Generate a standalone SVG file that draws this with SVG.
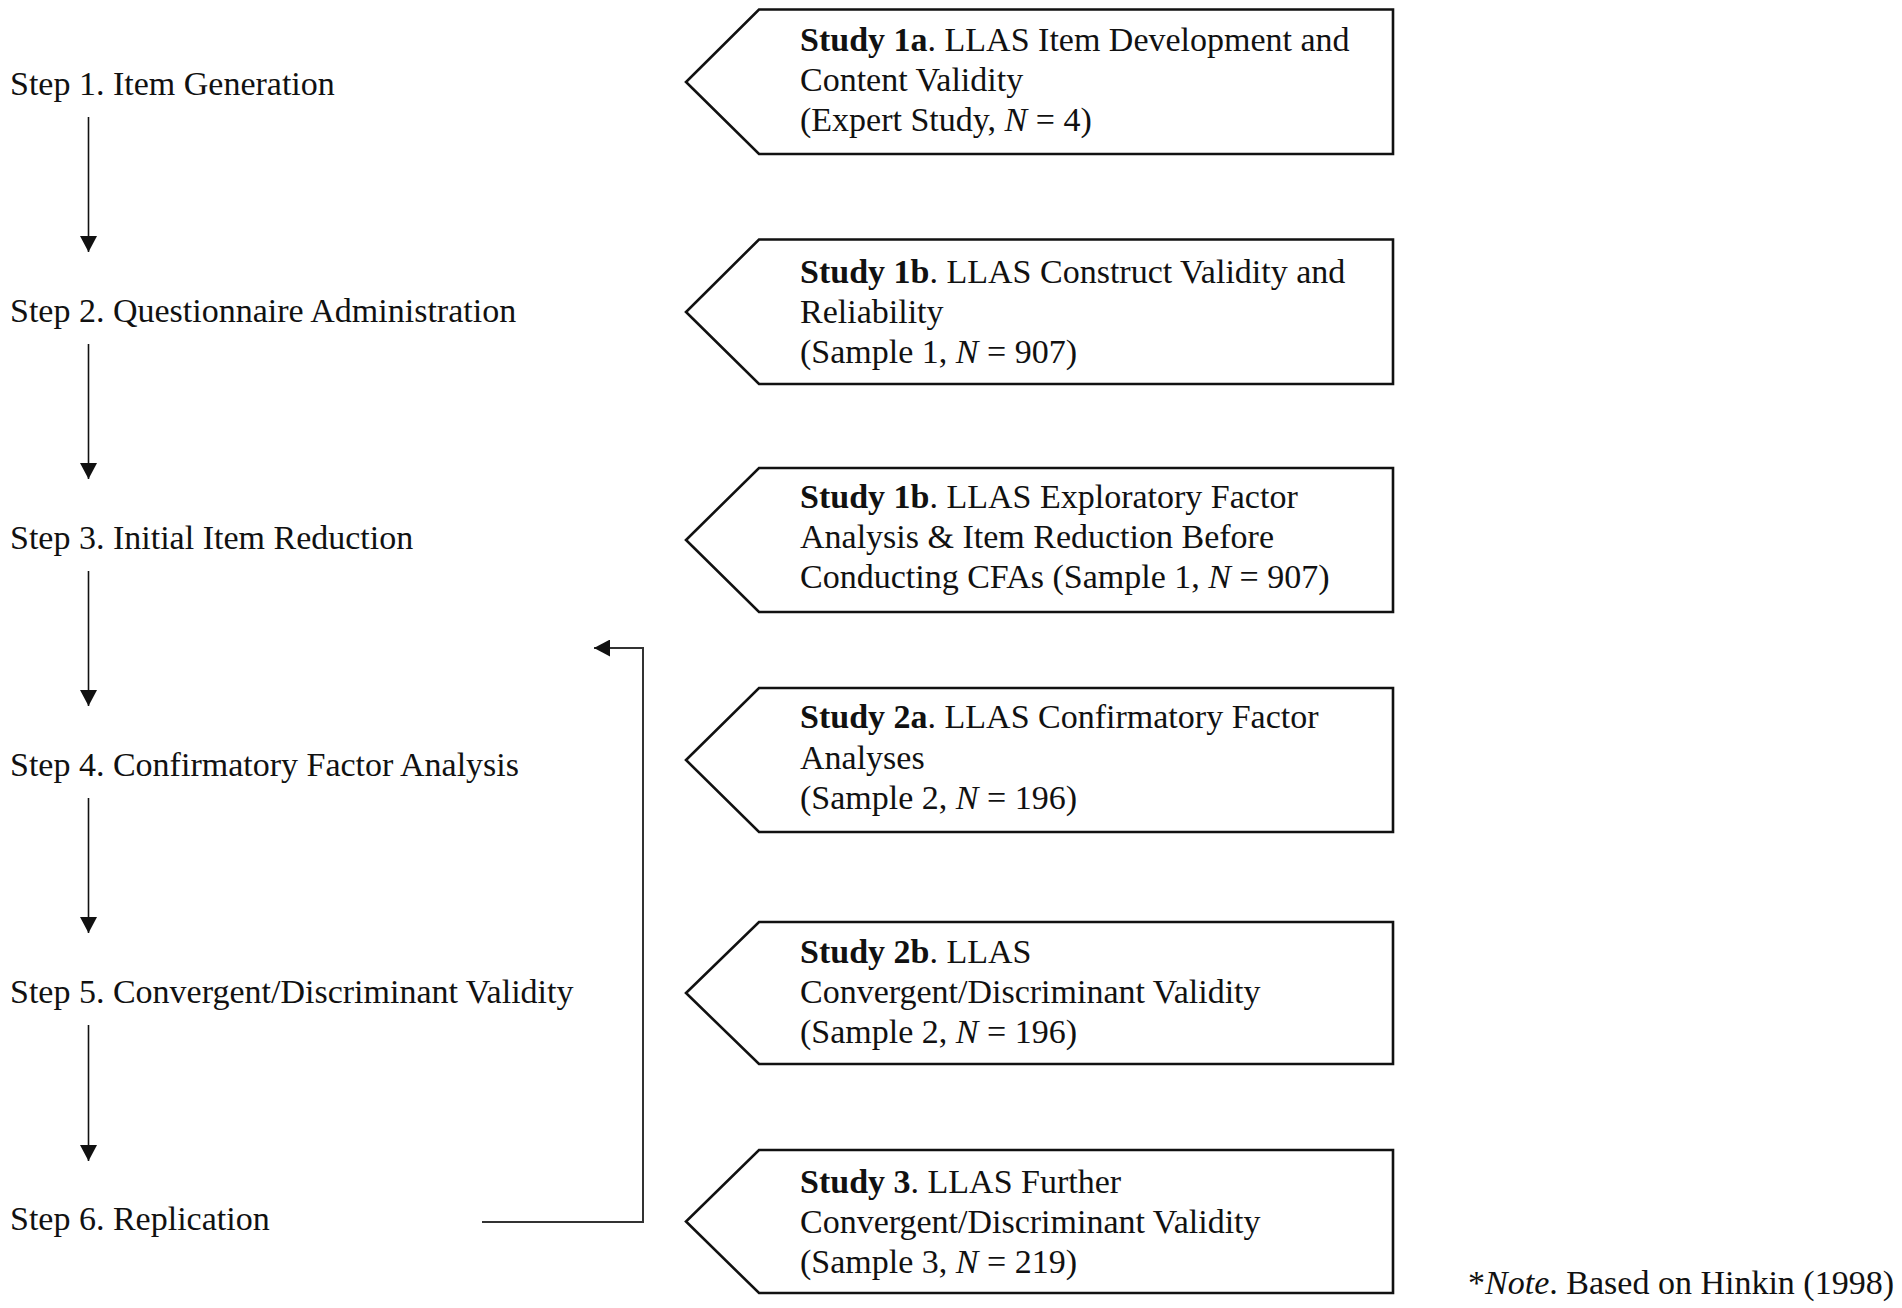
<svg xmlns="http://www.w3.org/2000/svg" width="1902" height="1308" viewBox="0 0 1902 1308">
<style>
text{font-family:"Liberation Serif","Times New Roman",serif;font-size:34px;fill:#111}
.b{font-weight:bold}
.i{font-style:italic}
.box{fill:#fff;stroke:#111;stroke-width:2.6}
.ar{fill:none;stroke:#111;stroke-width:1.6}
.fb{fill:none;stroke:#333;stroke-width:2}
</style>
<defs>
<marker id="ah" markerWidth="16" markerHeight="17" refX="16" refY="8.5" orient="auto" markerUnits="userSpaceOnUse">
<path d="M0,0 L16,8.5 L0,17 Z" fill="#111"/>
</marker>
</defs>
<rect width="1902" height="1308" fill="#fff"/>
<g id="step1"><text x="10" y="95">Step 1. Item Generation</text></g>
<g id="step2"><text x="10" y="322">Step 2. Questionnaire Administration</text></g>
<g id="step3"><text x="10" y="549">Step 3. Initial Item Reduction</text></g>
<g id="step4"><text x="10" y="776">Step 4. Confirmatory Factor Analysis</text></g>
<g id="step5"><text x="10" y="1003">Step 5. Convergent/Discriminant Validity</text></g>
<g id="step6"><text x="10" y="1230">Step 6. Replication</text></g>
<g id="connectors">
<line class="ar" x1="88.5" y1="117" x2="88.5" y2="252" marker-end="url(#ah)"/>
<line class="ar" x1="88.5" y1="344" x2="88.5" y2="479" marker-end="url(#ah)"/>
<line class="ar" x1="88.5" y1="571" x2="88.5" y2="706" marker-end="url(#ah)"/>
<line class="ar" x1="88.5" y1="798" x2="88.5" y2="933" marker-end="url(#ah)"/>
<line class="ar" x1="88.5" y1="1025" x2="88.5" y2="1161" marker-end="url(#ah)"/>
<path class="fb" d="M482,1222 H643 V648 H594" marker-end="url(#ah)"/>
</g>
<g id="study1a">
<path class="box" d="M759,9.5 H1393 V154 H759 L686,82 Z"/>
<text x="800" y="51"><tspan class="b">Study 1a</tspan>. LLAS Item Development and</text>
<text x="800" y="91">Content Validity</text>
<text x="800" y="131">(Expert Study, <tspan class="i">N</tspan> = 4)</text>
</g>
<g id="study1b">
<path class="box" d="M759,239.5 H1393 V384 H759 L686,312 Z"/>
<text x="800" y="283"><tspan class="b">Study 1b</tspan>. LLAS Construct Validity and</text>
<text x="800" y="323">Reliability</text>
<text x="800" y="363">(Sample 1, <tspan class="i">N</tspan> = 907)</text>
</g>
<g id="study1b-efa">
<path class="box" d="M759,468 H1393 V612 H759 L686,540 Z"/>
<text x="800" y="508"><tspan class="b">Study 1b</tspan>. LLAS Exploratory Factor</text>
<text x="800" y="548">Analysis &amp; Item Reduction Before</text>
<text x="800" y="588">Conducting CFAs (Sample 1, <tspan class="i">N</tspan> = 907)</text>
</g>
<g id="study2a">
<path class="box" d="M759,688 H1393 V832 H759 L686,760 Z"/>
<text x="800" y="728"><tspan class="b">Study 2a</tspan>. LLAS Confirmatory Factor</text>
<text x="800" y="769">Analyses</text>
<text x="800" y="809">(Sample 2, <tspan class="i">N</tspan> = 196)</text>
</g>
<g id="study2b">
<path class="box" d="M759,922 H1393 V1064 H759 L686,993 Z"/>
<text x="800" y="963"><tspan class="b">Study 2b</tspan>. LLAS</text>
<text x="800" y="1003">Convergent/Discriminant Validity</text>
<text x="800" y="1043">(Sample 2, <tspan class="i">N</tspan> = 196)</text>
</g>
<g id="study3">
<path class="box" d="M759,1150 H1393 V1293 H759 L686,1221.5 Z"/>
<text x="800" y="1193"><tspan class="b">Study 3</tspan>. LLAS Further</text>
<text x="800" y="1233">Convergent/Discriminant Validity</text>
<text x="800" y="1273">(Sample 3, <tspan class="i">N</tspan> = 219)</text>
</g>
<g id="note"><text x="1894" y="1294" text-anchor="end">*<tspan class="i">Note</tspan>. Based on Hinkin (1998)</text></g>
</svg>
